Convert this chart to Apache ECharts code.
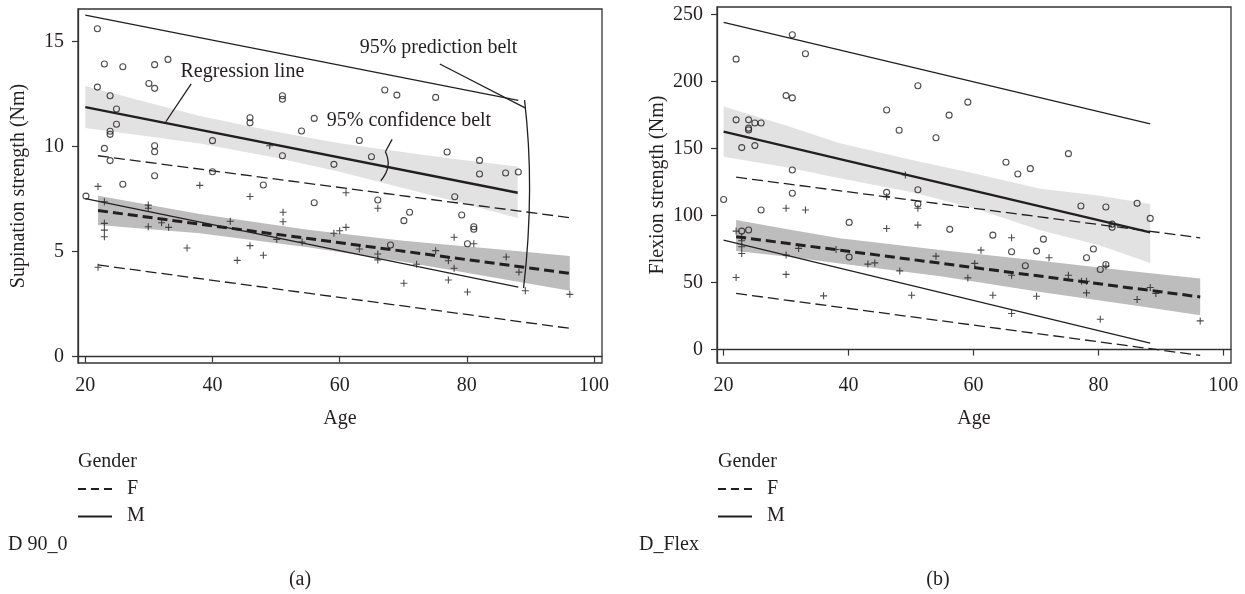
<!DOCTYPE html>
<html><head><meta charset="utf-8">
<script src="https://cdn.jsdelivr.net/npm/echarts@6/dist/echarts.min.js"></script>
<style>html,body{margin:0;padding:0;background:#fff}#c{width:1245px;height:594px}</style>
</head><body><div id="c"></div>
<script>
// ---------- Panel (a): Supination strength ----------
const aMaleCircles = [[21.9,15.61],[23.0,13.93],[25.9,13.8],[30.9,13.9],[33.0,14.15],[21.9,12.83],[23.9,12.42],[30.0,13.0],[30.9,12.77],[24.9,11.79],[24.9,11.06],[23.9,10.73],[23.9,10.58],[23.0,9.91],[23.9,9.33],[30.9,10.04],[30.9,9.75],[30.9,8.61],[25.9,8.2],[40.0,10.28],[40.0,8.8],[45.9,11.37],[45.9,11.13],[48.0,8.17],[51.0,12.42],[51.0,12.25],[51.0,9.56],[54.0,10.74],[56.0,11.34],[20.1,7.64],[56.0,7.32],[67.1,12.69],[69.0,12.45],[75.1,12.34],[63.1,10.29],[65.0,9.51],[59.1,9.15],[76.9,9.74],[82.0,9.34],[82.0,8.69],[86.1,8.74],[88.1,8.79],[66.0,7.45],[71.0,6.87],[70.1,6.47],[78.1,7.61],[79.2,6.74],[81.1,6.18],[81.1,6.06],[80.1,5.37],[68.0,5.31]];
const aFemalePlus = [[22.0,8.1],[38.0,8.15],[49.0,10.04],[45.9,7.62],[23.0,7.37],[23.0,6.34],[23.0,6.02],[23.0,5.70],[22.0,4.25],[29.9,7.21],[29.9,7.06],[29.9,6.18],[32.0,6.37],[33.1,6.15],[36.0,5.17],[42.8,6.44],[43.9,4.58],[45.9,5.28],[48.0,4.82],[50.1,5.58],[51.1,6.87],[51.1,6.42],[54.1,5.45],[59.1,5.87],[60.0,5.99],[61.0,6.15],[61.0,7.8],[66.0,7.06],[63.1,5.12],[66.0,4.88],[66.0,4.6],[72.1,4.39],[70.1,3.49],[75.1,5.04],[77.1,4.56],[78.0,5.68],[78.0,4.2],[77.1,3.64],[80.1,3.07],[81.1,5.37],[86.2,4.74],[88.2,4.02],[89.2,3.13],[96.2,2.96]];
const aMaleReg = [[20,11.88],[88,7.8]];
const aMalePredHi = [[20,16.26],[88.1,12.2]];
const aMalePredLo = [[20,7.52],[88.1,3.3]];
const aMaleBandAge = [20,30,38,50,60,66.4,78,88];
const aMaleBandHi = [12.88,12.08,11.45,10.70,10.16,9.88,9.4,9.05];
const aMaleBandLo = [10.88,10.48,10.15,9.46,8.8,8.3,7.4,6.6];
const aFemReg = [[22,6.95],[96.2,3.96]];
const aFemPredHi = [[22,9.56],[96.2,6.61]];
const aFemPredLo = [[22,4.36],[96.2,1.34]];
const aFemBandAge = [22,38,55,70,84,96.2];
const aFemBandHi = [7.66,6.79,6.04,5.51,5.13,4.79];
const aFemBandLo = [6.26,5.87,5.2,4.51,3.77,3.13];
const aYTicks = [0,5,10,15];

// ---------- Panel (b): Flexion strength ----------
const bMaleCircles = [[31.0,234.9],[33.1,220.7],[22.0,216.7],[30.0,189.5],[31.0,187.8],[51.1,196.8],[46.1,178.8],[56.1,174.9],[48.1,163.7],[54.0,158.1],[22.0,171.4],[24.0,171.4],[24.0,165.2],[24.0,163.9],[25.0,169.1],[26.0,169.1],[22.9,150.7],[25.0,152.2],[31.0,134.0],[31.0,116.6],[46.1,117.3],[51.1,119.3],[20.0,112.0],[59.1,184.6],[65.2,139.8],[67.1,131.0],[69.1,135.0],[75.2,146.2],[26.0,104.1],[22.9,88.4],[24.0,89.2],[40.1,94.9],[40.1,69.0],[51.1,108.6],[56.2,89.7],[63.1,85.4],[66.1,73.0],[70.1,73.5],[71.2,82.4],[68.3,62.5],[77.2,107.1],[81.2,106.4],[86.2,109.1],[88.3,97.9],[82.2,93.6],[82.2,91.2],[79.2,75.0],[78.1,68.5],[80.3,59.8],[81.2,63.5]];
const bFemalePlus = [[22.0,88.4],[22.0,53.8],[22.9,84.2],[22.9,81.2],[22.9,76.7],[22.9,71.7],[30.0,105.4],[33.1,104.1],[30.0,70.5],[30.0,56.1],[32.0,75.5],[36.0,40.1],[38.0,74.7],[43.1,63.8],[44.2,64.7],[46.1,90.4],[46.1,114.1],[48.2,58.7],[50.1,40.6],[51.1,105.4],[51.1,92.9],[54.0,69.7],[49.1,130.3],[59.1,53.5],[60.2,64.3],[61.2,74.2],[63.1,40.6],[66.1,83.4],[66.1,55.5],[66.1,26.9],[70.1,39.8],[72.1,68.5],[75.2,55.5],[77.3,51.0],[78.1,51.0],[78.1,42.3],[80.3,22.6],[81.2,62.3],[86.2,37.4],[88.3,46.3],[89.2,41.9],[96.3,21.4]];
const bMaleReg = [[20,162.6],[88.3,87.4]];
const bMalePredHi = [[20,244.1],[88.3,168.4]];
const bMalePredLo = [[20,81.7],[88.3,4.9]];
const bMaleBandAge = [20,30,38.6,50,60,70.7,80,88.3];
const bMaleBandHi = [181.3,167.1,154,141.6,131.6,120,115,108.6];
const bMaleBandLo = [143.9,136.1,127.8,117.6,105.6,89,78,64.7];
const bFemReg = [[22,84.2],[96.3,39.3]];
const bFemPredHi = [[22,128.6],[96.3,83.4]];
const bFemPredLo = [[22,41.9],[96.3,-4.3]];
const bFemBandAge = [22,30,38.6,55,70.7,85,96.3];
const bFemBandHi = [96.6,90,83,74.1,66.2,58.7,53];
const bFemBandLo = [73.5,69.4,64.3,54.5,43,33.5,25.6];
const bYTicks = [0,50,100,150,200,250];

const xTicks = [20,40,60,80,100];

// annotations of panel (a), in data coordinates
const annoRegText = {text:'Regression line', at:[44.7,13.55]};
const annoRegLeader = [[36.65,12.98],[32.66,11.18]];
const annoPredText = {text:'95% prediction belt', at:[75.55,14.69]};
const annoPredLeader = [[75.75,13.93],[89.24,11.83]];
const annoPredBracket = [[89.08,12.21],[89.87,7.93],[88.93,3.26]];
const annoConfText = {text:'95% confidence belt', at:[70.9,11.23]};
const annoConfLeader = [[68.25,10.34],[67.19,9.75]];
const annoConfBrace = [[67.19,9.75],[67.6,9.05],[66.46,8.37]];

const INK = '#231f20';
const FONT = "'Liberation Serif','DejaVu Serif',serif";
const LIGHT = '#e2e2e2';
const DARK = '#bdbdbd';
const PLUS = 'path://M5 0V10M0 5H10';

function band(idx, ages, lo, hi, color) {
  return {
    type: 'custom', xAxisIndex: idx, yAxisIndex: idx, z: 1, silent: true,
    data: ages.map((a, i) => [a, lo[i], hi[i]]),
    encode: {x: 0, y: [1, 2]},
    renderItem(params, api) {
      if (params.dataIndex !== 0) return null;
      const pts = [];
      for (let i = 0; i < ages.length; i++) pts.push(api.coord([ages[i], hi[i]]));
      for (let i = ages.length - 1; i >= 0; i--) pts.push(api.coord([ages[i], lo[i]]));
      return {type: 'polygon', shape: {points: pts}, style: {fill: color}};
    }
  };
}
function line(idx, data, width, dash) {
  return {
    type: 'line', xAxisIndex: idx, yAxisIndex: idx, data, symbol: 'none', z: 3, silent: true,
    lineStyle: {color: INK, width, type: dash || 'solid'}
  };
}
function circles(idx, data) {
  return {type: 'scatter', xAxisIndex: idx, yAxisIndex: idx, data, symbol: 'circle', symbolSize: 6, z: 4, silent: true,
    itemStyle: {color: 'rgba(0,0,0,0)', borderColor: INK, borderWidth: 1.1}};
}
function pluses(idx, data) {
  return {type: 'scatter', xAxisIndex: idx, yAxisIndex: idx, data, symbol: PLUS, symbolSize: 7, z: 4, silent: true,
    itemStyle: {color: 'rgba(0,0,0,0)', borderColor: INK, borderWidth: 1.1}};
}
const annotations = {
  type: 'custom', xAxisIndex: 0, yAxisIndex: 0, z: 6, silent: true,
  data: [[annoRegText.at[0], annoRegText.at[1]]],
  renderItem(params, api) {
    const c = p => api.coord(p);
    const txt = t => {
      const p = c(t.at);
      return {type: 'text', x: p[0], y: p[1], style: {text: t.text, font: '20px ' + FONT, fill: INK, align: 'center', verticalAlign: 'middle'}};
    };
    const pl = (pts, smooth, w) => ({type: 'polyline', shape: {points: pts.map(c), smooth: smooth || 0}, style: {stroke: INK, lineWidth: w || 1.3, fill: null}});
    return {type: 'group', children: [
      txt(annoRegText), pl(annoRegLeader),
      txt(annoPredText), pl(annoPredLeader), pl(annoPredBracket, 0.5),
      txt(annoConfText), pl(annoConfLeader), pl(annoConfBrace, 0.5)
    ]};
  }
};

function xAxis(idx, min, max) {
  return {
    gridIndex: idx, type: 'value', min, max,
    name: 'Age', nameLocation: 'middle', nameGap: 46,
    nameTextStyle: {fontFamily: FONT, fontSize: 20, color: INK},
    axisLine: {show: true, lineStyle: {color: '#333', width: 1.3}},
    axisTick: {show: true, length: 6, customValues: xTicks, lineStyle: {color: '#333', width: 1.2}},
    axisLabel: {customValues: xTicks, margin: 13, fontFamily: FONT, fontSize: 20, color: INK},
    splitLine: {show: false}
  };
}
function yAxis(idx, min, max, ticks, name) {
  return {
    gridIndex: idx, type: 'value', min, max,
    name, nameLocation: 'middle', nameGap: 49, nameRotate: 90,
    nameTextStyle: {fontFamily: FONT, fontSize: 20, color: INK},
    axisLine: {show: true, lineStyle: {color: '#333', width: 1.3}},
    axisTick: {show: true, length: 6, customValues: ticks, lineStyle: {color: '#333', width: 1.2}},
    axisLabel: {customValues: ticks, margin: 14, fontFamily: FONT, fontSize: 20, color: INK},
    splitLine: {show: false}
  };
}

function legendGraphic(x0, label, labelX, labelCX) {
  const t = (text, x, y, align) => ({type: 'text', x, y, silent: true,
    style: {text, font: '20px ' + FONT, fill: INK, align: align || 'left', verticalAlign: 'middle'}});
  return [
    t('Gender', x0, 462),
    {type: 'line', silent: true, shape: {x1: x0, y1: 489, x2: x0 + 34, y2: 489}, style: {stroke: INK, lineWidth: 2, lineDash: [8, 5]}},
    t('F', x0 + 49, 489),
    {type: 'line', silent: true, shape: {x1: x0, y1: 516.5, x2: x0 + 34, y2: 516.5}, style: {stroke: INK, lineWidth: 2.2}},
    t('M', x0 + 49, 516),
    t(label, labelX, 545),
    t(label === 'D 90_0' ? '(a)' : '(b)', labelCX, 580, 'center')
  ];
}

const chart = echarts.init(document.getElementById('c'), null, {renderer: 'canvas'});
chart.setOption({
  animation: false,
  backgroundColor: '#fff',
  grid: [
    {left: 78, top: 9, width: 524, height: 354, show: true, borderColor: '#333', borderWidth: 1.3, backgroundColor: 'rgba(0,0,0,0)'},
    {left: 717, top: 7, width: 514, height: 356, show: true, borderColor: '#333', borderWidth: 1.3, backgroundColor: 'rgba(0,0,0,0)'}
  ],
  xAxis: [xAxis(0, 18.85, 101.26), xAxis(1, 18.94, 101.23)],
  yAxis: [yAxis(0, -0.31, 16.55, aYTicks, 'Supination strength (Nm)'), yAxis(1, -10, 255.6, bYTicks, 'Flexion strength (Nm)')],
  graphic: [...legendGraphic(78, 'D 90_0', 8, 300), ...legendGraphic(718, 'D_Flex', 639, 938)],
  series: [
    band(0, aMaleBandAge, aMaleBandLo, aMaleBandHi, LIGHT),
    band(0, aFemBandAge, aFemBandLo, aFemBandHi, DARK),
    line(0, aMaleReg, 2.4),
    line(0, aMalePredHi, 1.3),
    line(0, aMalePredLo, 1.3),
    line(0, aFemReg, 3, [10, 5]),
    line(0, aFemPredHi, 1.3, [11, 5]),
    line(0, aFemPredLo, 1.3, [11, 5]),
    circles(0, aMaleCircles),
    pluses(0, aFemalePlus),
    annotations,
    band(1, bMaleBandAge, bMaleBandLo, bMaleBandHi, LIGHT),
    band(1, bFemBandAge, bFemBandLo, bFemBandHi, DARK),
    line(1, bMaleReg, 2.4),
    line(1, bMalePredHi, 1.3),
    line(1, bMalePredLo, 1.3),
    line(1, bFemReg, 3, [10, 5]),
    line(1, bFemPredHi, 1.3, [11, 5]),
    line(1, bFemPredLo, 1.3, [11, 5]),
    circles(1, bMaleCircles),
    pluses(1, bFemalePlus)
  ]
});
</script></body></html>
